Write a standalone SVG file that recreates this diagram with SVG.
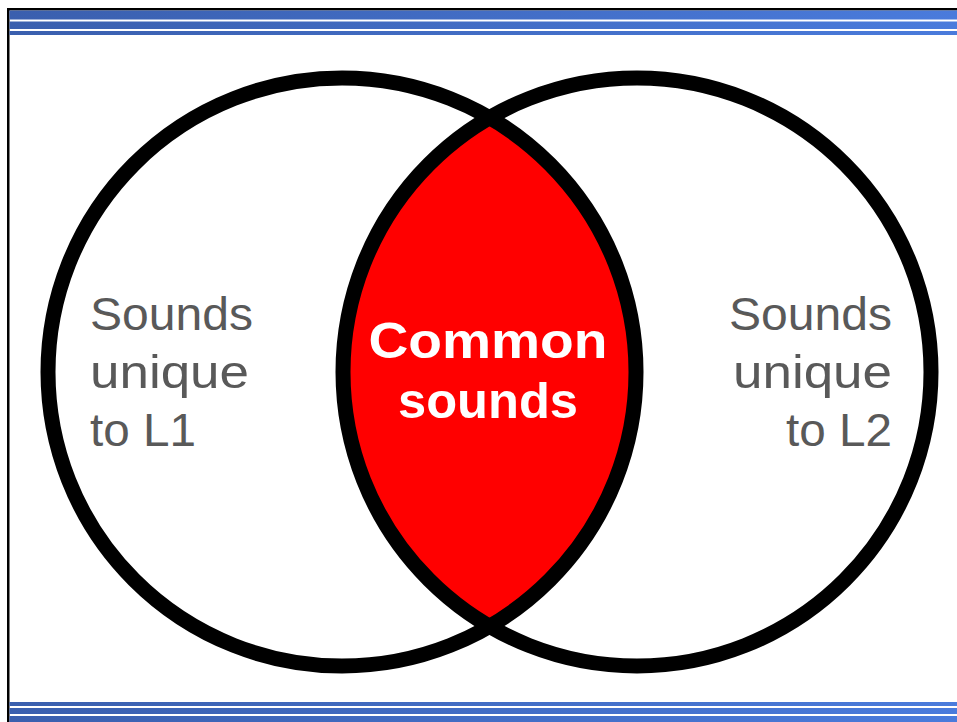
<svg xmlns="http://www.w3.org/2000/svg" width="957" height="722" viewBox="0 0 957 722">
  <defs>
    <linearGradient id="bar" x1="0" y1="0" x2="1" y2="0">
      <stop offset="0" stop-color="#3a5fae"/>
      <stop offset="1" stop-color="#4a7bdc"/>
    </linearGradient>
    <style>
      .ring { fill: none; stroke: #000; stroke-width: 15; }
      .side { font-family: "Liberation Sans", Arial, sans-serif; font-size: 46px; fill: #595959; }
      .mid { font-family: "Liberation Sans", Arial, sans-serif; font-size: 50px; font-weight: bold; fill: #fff; text-anchor: middle; }
    </style>
  </defs>
  <rect width="957" height="722" fill="#fff"/>

  <!-- frame -->
  <rect x="7" y="8" width="950" height="2.5" fill="#000"/>
  <rect x="7" y="8" width="2.5" height="714" fill="#000"/>

  <!-- header and footer stripes -->
  <g fill="url(#bar)">
    <rect x="9.5" y="10.5" width="947.5" height="9"/>
    <rect x="9.5" y="21.5" width="947.5" height="7.5"/>
    <rect x="9.5" y="31" width="947.5" height="4"/>
    <rect x="9.5" y="702" width="947.5" height="4"/>
    <rect x="9.5" y="708" width="947.5" height="6"/>
    <rect x="9.5" y="716" width="947.5" height="6"/>
  </g>

  <!-- overlap region -->
  <g id="overlap">
    <path d="M489.5 117.7 A294 294 0 0 1 489.5 626.3 A294 294 0 0 1 489.5 117.7 Z" fill="#ff0000"/>
  </g>

  <g id="set-l1">
    <circle class="ring" cx="342" cy="372" r="294"/>
    <text class="side" x="90" y="330" textLength="163" lengthAdjust="spacingAndGlyphs">Sounds</text>
    <text class="side" x="90" y="388" textLength="159" lengthAdjust="spacingAndGlyphs">unique</text>
    <text class="side" x="90" y="446" textLength="106" lengthAdjust="spacingAndGlyphs">to L1</text>
  </g>

  <g id="set-l2">
    <circle class="ring" cx="637" cy="372" r="294"/>
    <text class="side" x="729" y="330" textLength="163" lengthAdjust="spacingAndGlyphs">Sounds</text>
    <text class="side" x="733" y="388" textLength="159" lengthAdjust="spacingAndGlyphs">unique</text>
    <text class="side" x="786" y="446" textLength="106" lengthAdjust="spacingAndGlyphs">to L2</text>
  </g>

  <g id="common">
    <text class="mid" x="488" y="358" textLength="239" lengthAdjust="spacingAndGlyphs">Common</text>
    <text class="mid" x="488" y="418" textLength="180" lengthAdjust="spacingAndGlyphs">sounds</text>
  </g>
</svg>
